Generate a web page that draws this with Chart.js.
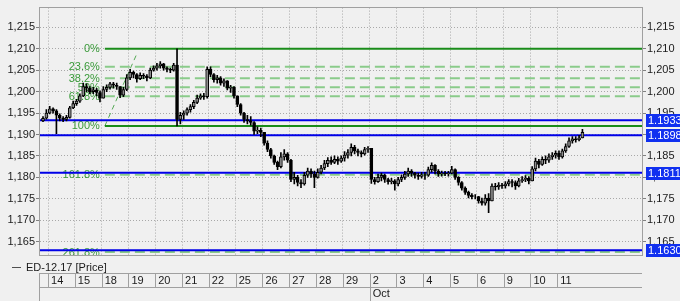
<!DOCTYPE html>
<html><head><meta charset="utf-8">
<script src="https://cdn.jsdelivr.net/npm/chart.js@4/dist/chart.umd.min.js"></script>
<style>html,body{margin:0;padding:0;background:#f0f0f0;overflow:hidden}#wrap{width:680px;height:301px;position:relative}</style>
</head><body><div id="wrap"><canvas id="c" width="680" height="301"></canvas></div>
<script>
// ---- axis ranges (data units: x = trading-day index, y = price) ----
const X_MIN = -0.30, X_MAX = 22.16, Y_MIN = 1.1619, Y_MAX = 1.2196;
const BARS_PER_DAY = 8;
const dayLabels = ['14','15','18','19','20','21','22','25','26','27','28','29','2','3','4','5','6','9','10','11'];
const dayTicks = [0,1,2,3,4,5,6,7,8,9,10,11,12,13,14,15,16,17,18,19];
const monthTickIdx = [12];
const monthNames = ['Oct'];
const yTicks = [1.165,1.170,1.175,1.180,1.185,1.190,1.195,1.200,1.205,1.210,1.215];
const seriesName = 'ED-12.17 [Price]';

// ---- Fibonacci tool and horizontal levels ----
const FIB_START = 2.12;
const fibLevels = [1.2100,1.2058,1.2031,1.2010,1.1989,1.1920,1.1806,1.1626];
const fibLabels = ['0%','23.6%','38.2%','50%','61.8%','100%','161.8%','261.8%'];
const fibSolid  = [true,false,false,false,false,true,false,false];
const trendX = [2.12, 3.34];
const trendY = [1.1920, 1.2092];
const blueLevels = [1.1933,1.1898,1.1811,1.1630];

// ---- candles ----
const firstOpen = 1.1932;
const preClose = [1.1938,1.1950];
const preHigh  = [1.1942,1.1958];
const preLow   = [1.1930,1.1936];
const closeByDay = [
[1.1960,1.1955,1.1945,1.1938,1.1935,1.1940,1.1962,1.1972],
[1.1978,1.1990,1.2012,1.2008,1.2000,1.2004,1.1998,1.1985],
[1.2005,1.2010,1.2018,1.2015,1.2012,1.1992,1.2005,1.2032],
[1.2045,1.2040,1.2030,1.2038,1.2036,1.2032,1.2050,1.2055],
[1.2060,1.2065,1.2055,1.2052,1.2050,1.2062,1.1935,1.1945],
[1.1950,1.1958,1.1965,1.1975,1.1985,1.1990,1.1988,1.2052],
[1.2040,1.2028,1.2032,1.2020,1.2025,1.2008,1.2010,1.1990],
[1.1970,1.1950,1.1935,1.1932,1.1928,1.1908,1.1910,1.1905],
[1.1880,1.1865,1.1850,1.1835,1.1825,1.1848,1.1855,1.1840],
[1.1795,1.1800,1.1788,1.1785,1.1805,1.1815,1.1808,1.1800],
[1.1812,1.1822,1.1832,1.1840,1.1835,1.1842,1.1838,1.1845],
[1.1852,1.1858,1.1870,1.1862,1.1858,1.1855,1.1865,1.1868],
[1.1795,1.1790,1.1800,1.1805,1.1795,1.1790,1.1792,1.1785],
[1.1795,1.1800,1.1808,1.1815,1.1810,1.1805,1.1802,1.1806],
[1.1805,1.1818,1.1828,1.1815,1.1808,1.1810,1.1808,1.1810],
[1.1818,1.1800,1.1788,1.1775,1.1765,1.1758,1.1755,1.1755],
[1.1745,1.1740,1.1752,1.1745,1.1780,1.1778,1.1782,1.1780],
[1.1785,1.1790,1.1788,1.1780,1.1792,1.1795,1.1798,1.1792],
[1.1820,1.1838,1.1830,1.1842,1.1840,1.1848,1.1852,1.1856],
[1.1848,1.1862,1.1872,1.1885,1.1890,1.1888,1.1892,1.1905]
];
const highByDay = [
[1.1966,1.1962,1.1958,1.1948,1.1942,1.1945,1.1966,1.1978],
[1.1982,1.1995,1.2020,1.2018,1.2012,1.2010,1.2008,1.2002],
[1.2012,1.2016,1.2022,1.2022,1.2020,1.2012,1.2010,1.2040],
[1.2052,1.2048,1.2042,1.2044,1.2042,1.2040,1.2055,1.2060],
[1.2066,1.2070,1.2066,1.2058,1.2055,1.2066,1.2100,1.1952],
[1.1955,1.1962,1.1970,1.1980,1.1992,1.1995,1.1996,1.2058],
[1.2058,1.2042,1.2038,1.2035,1.2030,1.2026,1.2015,1.2012],
[1.1990,1.1972,1.1952,1.1945,1.1942,1.1930,1.1918,1.1915],
[1.1900,1.1885,1.1868,1.1852,1.1838,1.1858,1.1865,1.1858],
[1.1842,1.1812,1.1805,1.1795,1.1812,1.1822,1.1820,1.1815],
[1.1820,1.1828,1.1840,1.1846,1.1848,1.1850,1.1848,1.1850],
[1.1860,1.1865,1.1878,1.1875,1.1866,1.1862,1.1870,1.1872],
[1.1868,1.1800,1.1808,1.1810,1.1808,1.1798,1.1798,1.1795],
[1.1800,1.1806,1.1814,1.1822,1.1818,1.1812,1.1810,1.1812],
[1.1812,1.1824,1.1834,1.1830,1.1818,1.1815,1.1814,1.1814],
[1.1826,1.1820,1.1802,1.1790,1.1778,1.1768,1.1762,1.1760],
[1.1756,1.1752,1.1760,1.1762,1.1785,1.1786,1.1788,1.1786],
[1.1790,1.1795,1.1795,1.1792,1.1798,1.1802,1.1804,1.1802],
[1.1825,1.1845,1.1842,1.1848,1.1850,1.1855,1.1858,1.1862],
[1.1862,1.1866,1.1878,1.1892,1.1895,1.1895,1.1898,1.1912]
];
const lowByDay = [
[1.1948,1.1950,1.1902,1.1932,1.1930,1.1932,1.1938,1.1960],
[1.1968,1.1975,1.1988,1.2000,1.1995,1.1995,1.1990,1.1976],
[1.1985,1.2000,1.2006,1.2008,1.2005,1.1986,1.1988,1.2002],
[1.2028,1.2032,1.2022,1.2028,1.2030,1.2025,1.2030,1.2048],
[1.2050,1.2055,1.2050,1.2046,1.2044,1.2048,1.1920,1.1925],
[1.1935,1.1945,1.1952,1.1960,1.1972,1.1982,1.1982,1.1985],
[1.2035,1.2022,1.2020,1.2015,1.2012,1.2004,1.1998,1.1985],
[1.1965,1.1945,1.1928,1.1925,1.1922,1.1900,1.1902,1.1895],
[1.1875,1.1860,1.1845,1.1830,1.1818,1.1822,1.1840,1.1835],
[1.1790,1.1785,1.1780,1.1776,1.1782,1.1800,1.1800,1.1776],
[1.1798,1.1808,1.1818,1.1825,1.1830,1.1832,1.1830,1.1835],
[1.1838,1.1845,1.1850,1.1855,1.1850,1.1848,1.1852,1.1858],
[1.1786,1.1784,1.1788,1.1792,1.1788,1.1784,1.1785,1.1770],
[1.1780,1.1790,1.1795,1.1802,1.1802,1.1798,1.1795,1.1798],
[1.1795,1.1802,1.1812,1.1808,1.1802,1.1803,1.1804,1.1803],
[1.1808,1.1795,1.1782,1.1770,1.1760,1.1752,1.1750,1.1750],
[1.1740,1.1735,1.1735,1.1718,1.1745,1.1770,1.1772,1.1774],
[1.1775,1.1780,1.1778,1.1772,1.1778,1.1788,1.1790,1.1785],
[1.1792,1.1815,1.1822,1.1828,1.1832,1.1835,1.1842,1.1845],
[1.1842,1.1845,1.1858,1.1870,1.1880,1.1882,1.1885,1.1895]
];

// ---- build OHLC bars (open = previous close) ----
const bars = [];
let prev = firstOpen;
function addBar(x, c, h, l) {
  bars.push({x, o: prev, c, h: Math.max(h, prev, c), l: Math.min(l, prev, c)});
  prev = c;
}
preClose.forEach((c, i) => addBar(-1 + (BARS_PER_DAY - preClose.length + i + 0.5) / BARS_PER_DAY, c, preHigh[i], preLow[i]));
closeByDay.forEach((row, d) => row.forEach((c, k) => addBar(d + (k + 0.5) / BARS_PER_DAY, c, highByDay[d][k], lowByDay[d][k])));

const FONT = "'Liberation Sans', Arial, sans-serif";
Chart.defaults.font.family = FONT;
Chart.defaults.font.size = 11;
Chart.defaults.color = '#1a1a1a';

const GREEN = '#1a8c1a', LGREEN = '#8acb8a', BLUE = '#0000e8', GRID = '#a8a8a8', FRAME = '#a0a0a0';

const datasets = [
  { type: 'bar', label: seriesName, data: bars.map(b => ({x: b.x, y: [b.l, b.h]})),
    backgroundColor: '#000', borderWidth: 0, barThickness: 1, grouped: false, order: 1 },
  { type: 'bar', label: 'body', data: bars.map(b => ({x: b.x, y: [b.o, b.c]})),
    backgroundColor: bars.map(b => b.c >= b.o ? '#8c8c8c' : '#000000'),
    borderColor: '#000', borderWidth: 1, borderSkipped: false, barThickness: 3, grouped: false, order: 0 }
];
fibLevels.forEach((lv, i) => datasets.push({
  type: 'line', label: fibLabels[i], data: [{x: FIB_START, y: lv}, {x: X_MAX, y: lv}],
  borderColor: fibSolid[i] ? GREEN : LGREEN, borderWidth: 2, borderDash: fibSolid[i] ? [] : [10, 5],
  pointRadius: 0, tension: 0, order: 4 }));
datasets.push({ type: 'line', label: 'trend', data: trendX.map((x, i) => ({x, y: trendY[i]})),
  borderColor: '#55a855', borderWidth: 1, borderDash: [5, 4], pointRadius: 0, order: 4 });
blueLevels.forEach(lv => datasets.push({
  type: 'line', label: 'lvl', data: [{x: X_MIN, y: lv}, {x: X_MAX, y: lv}],
  borderColor: BLUE, borderWidth: 2, pointRadius: 0, order: 3 }));

const overlay = {
  id: 'overlay',
  beforeDatasetsDraw(chart) {
    const {ctx, chartArea: ca, scales: {x, y}} = chart;
    ctx.save();
    ctx.beginPath(); ctx.rect(ca.left, ca.top, ca.right - ca.left, ca.bottom - ca.top); ctx.clip();
    ctx.font = '11px ' + FONT; ctx.fillStyle = '#3a9a3a'; ctx.textAlign = 'right'; ctx.textBaseline = 'middle';
    const px = x.getPixelForValue(FIB_START) - 5;
    fibLevels.forEach((lv, i) => ctx.fillText(fibLabels[i], px, y.getPixelForValue(lv) + 0.5));
    ctx.restore();
  },
  afterDraw(chart) {
    const {ctx, chartArea: ca, scales: {x, y}} = chart;
    ctx.save();
    // plot frame
    ctx.strokeStyle = FRAME; ctx.lineWidth = 1;
    ctx.strokeRect(Math.round(ca.left) - 0.5, Math.round(ca.top) - 0.5, Math.round(ca.right - ca.left) + 1, Math.round(ca.bottom - ca.top) + 1);
    // date table
    const t0 = Math.round(ca.bottom) + 18, t1 = t0 + 14, t2 = chart.height;
    ctx.beginPath();
    ctx.moveTo(ca.left, t0 + 0.5); ctx.lineTo(ca.right, t0 + 0.5);
    ctx.moveTo(ca.left, t1 + 0.5); ctx.lineTo(ca.right, t1 + 0.5);
    ctx.moveTo(Math.round(ca.left) - 0.5, t0); ctx.lineTo(Math.round(ca.left) - 0.5, t2);
    dayTicks.forEach((v, i) => {
      const p = Math.round(x.getPixelForValue(v)) + 0.5;
      ctx.moveTo(p, t0); ctx.lineTo(p, monthTickIdx.includes(i) ? t2 : t1);
    });
    ctx.stroke();
    // legend
    const ly = Math.round(ca.bottom) + 12;
    ctx.strokeStyle = '#505050'; ctx.beginPath(); ctx.moveTo(12, ly + 0.5); ctx.lineTo(21, ly + 0.5); ctx.stroke();
    ctx.font = '11px ' + FONT; ctx.fillStyle = '#1a1a1a'; ctx.textAlign = 'left'; ctx.textBaseline = 'middle';
    ctx.fillText(seriesName, 26, ly + 0.5);
    // level tags on right axis
    blueLevels.forEach(lv => {
      const py = Math.round(y.getPixelForValue(lv));
      ctx.fillStyle = '#1030f0';
      ctx.fillRect(Math.round(ca.right) + 4, py - 6, 40, 13);
      ctx.fillStyle = '#ffffff';
      ctx.fillText(lv.toFixed(4), Math.round(ca.right) + 6, py + 0.5);
    });
    ctx.restore();
  }
};

new Chart(document.getElementById('c'), {
  type: 'bar',
  data: { datasets },
  options: {
    responsive: false, animation: false, devicePixelRatio: 1,
    layout: { padding: { top: 5, left: 0, right: 0, bottom: 0 } },
    plugins: { legend: { display: false }, tooltip: { enabled: false } },
    scales: {
      x: {
        type: 'linear', min: X_MIN, max: X_MAX, offset: false,
        afterBuildTicks: s => { s.ticks = dayTicks.map(v => ({value: v})); },
        afterFit: s => { s.height = 46; },
        ticks: { autoSkip: false, maxRotation: 0, align: 'start', labelOffset: 3, padding: 19,
          font: { size: 11, lineHeight: 1.2 }, color: '#1a1a1a',
          callback: (v, i) => { const m = monthTickIdx.indexOf(i); return m >= 0 ? [dayLabels[i], monthNames[m]] : dayLabels[i]; } },
        grid: { color: GRID, drawTicks: false, offset: false },
        border: { display: false, dash: [1, 2] }
      },
      y: {
        position: 'left', min: Y_MIN, max: Y_MAX,
        afterBuildTicks: s => { s.ticks = yTicks.map(v => ({value: v})); },
        afterFit: s => { s.width = 40; },
        ticks: { padding: 1, color: '#1a1a1a', callback: v => v.toFixed(3).replace('.', ',') },
        grid: { color: GRID, tickLength: 4, tickColor: '#808080' },
        border: { display: false, dash: [1, 2] }
      },
      y2: {
        position: 'right', min: Y_MIN, max: Y_MAX,
        afterBuildTicks: s => { s.ticks = yTicks.map(v => ({value: v})); },
        afterFit: s => { s.width = 38; },
        ticks: { padding: 1, color: '#1a1a1a', callback: v => v.toFixed(3).replace('.', ',') },
        grid: { drawOnChartArea: false, tickLength: 4, tickColor: '#808080' },
        border: { display: false }
      }
    }
  },
  plugins: [overlay]
});
</script></body></html>
